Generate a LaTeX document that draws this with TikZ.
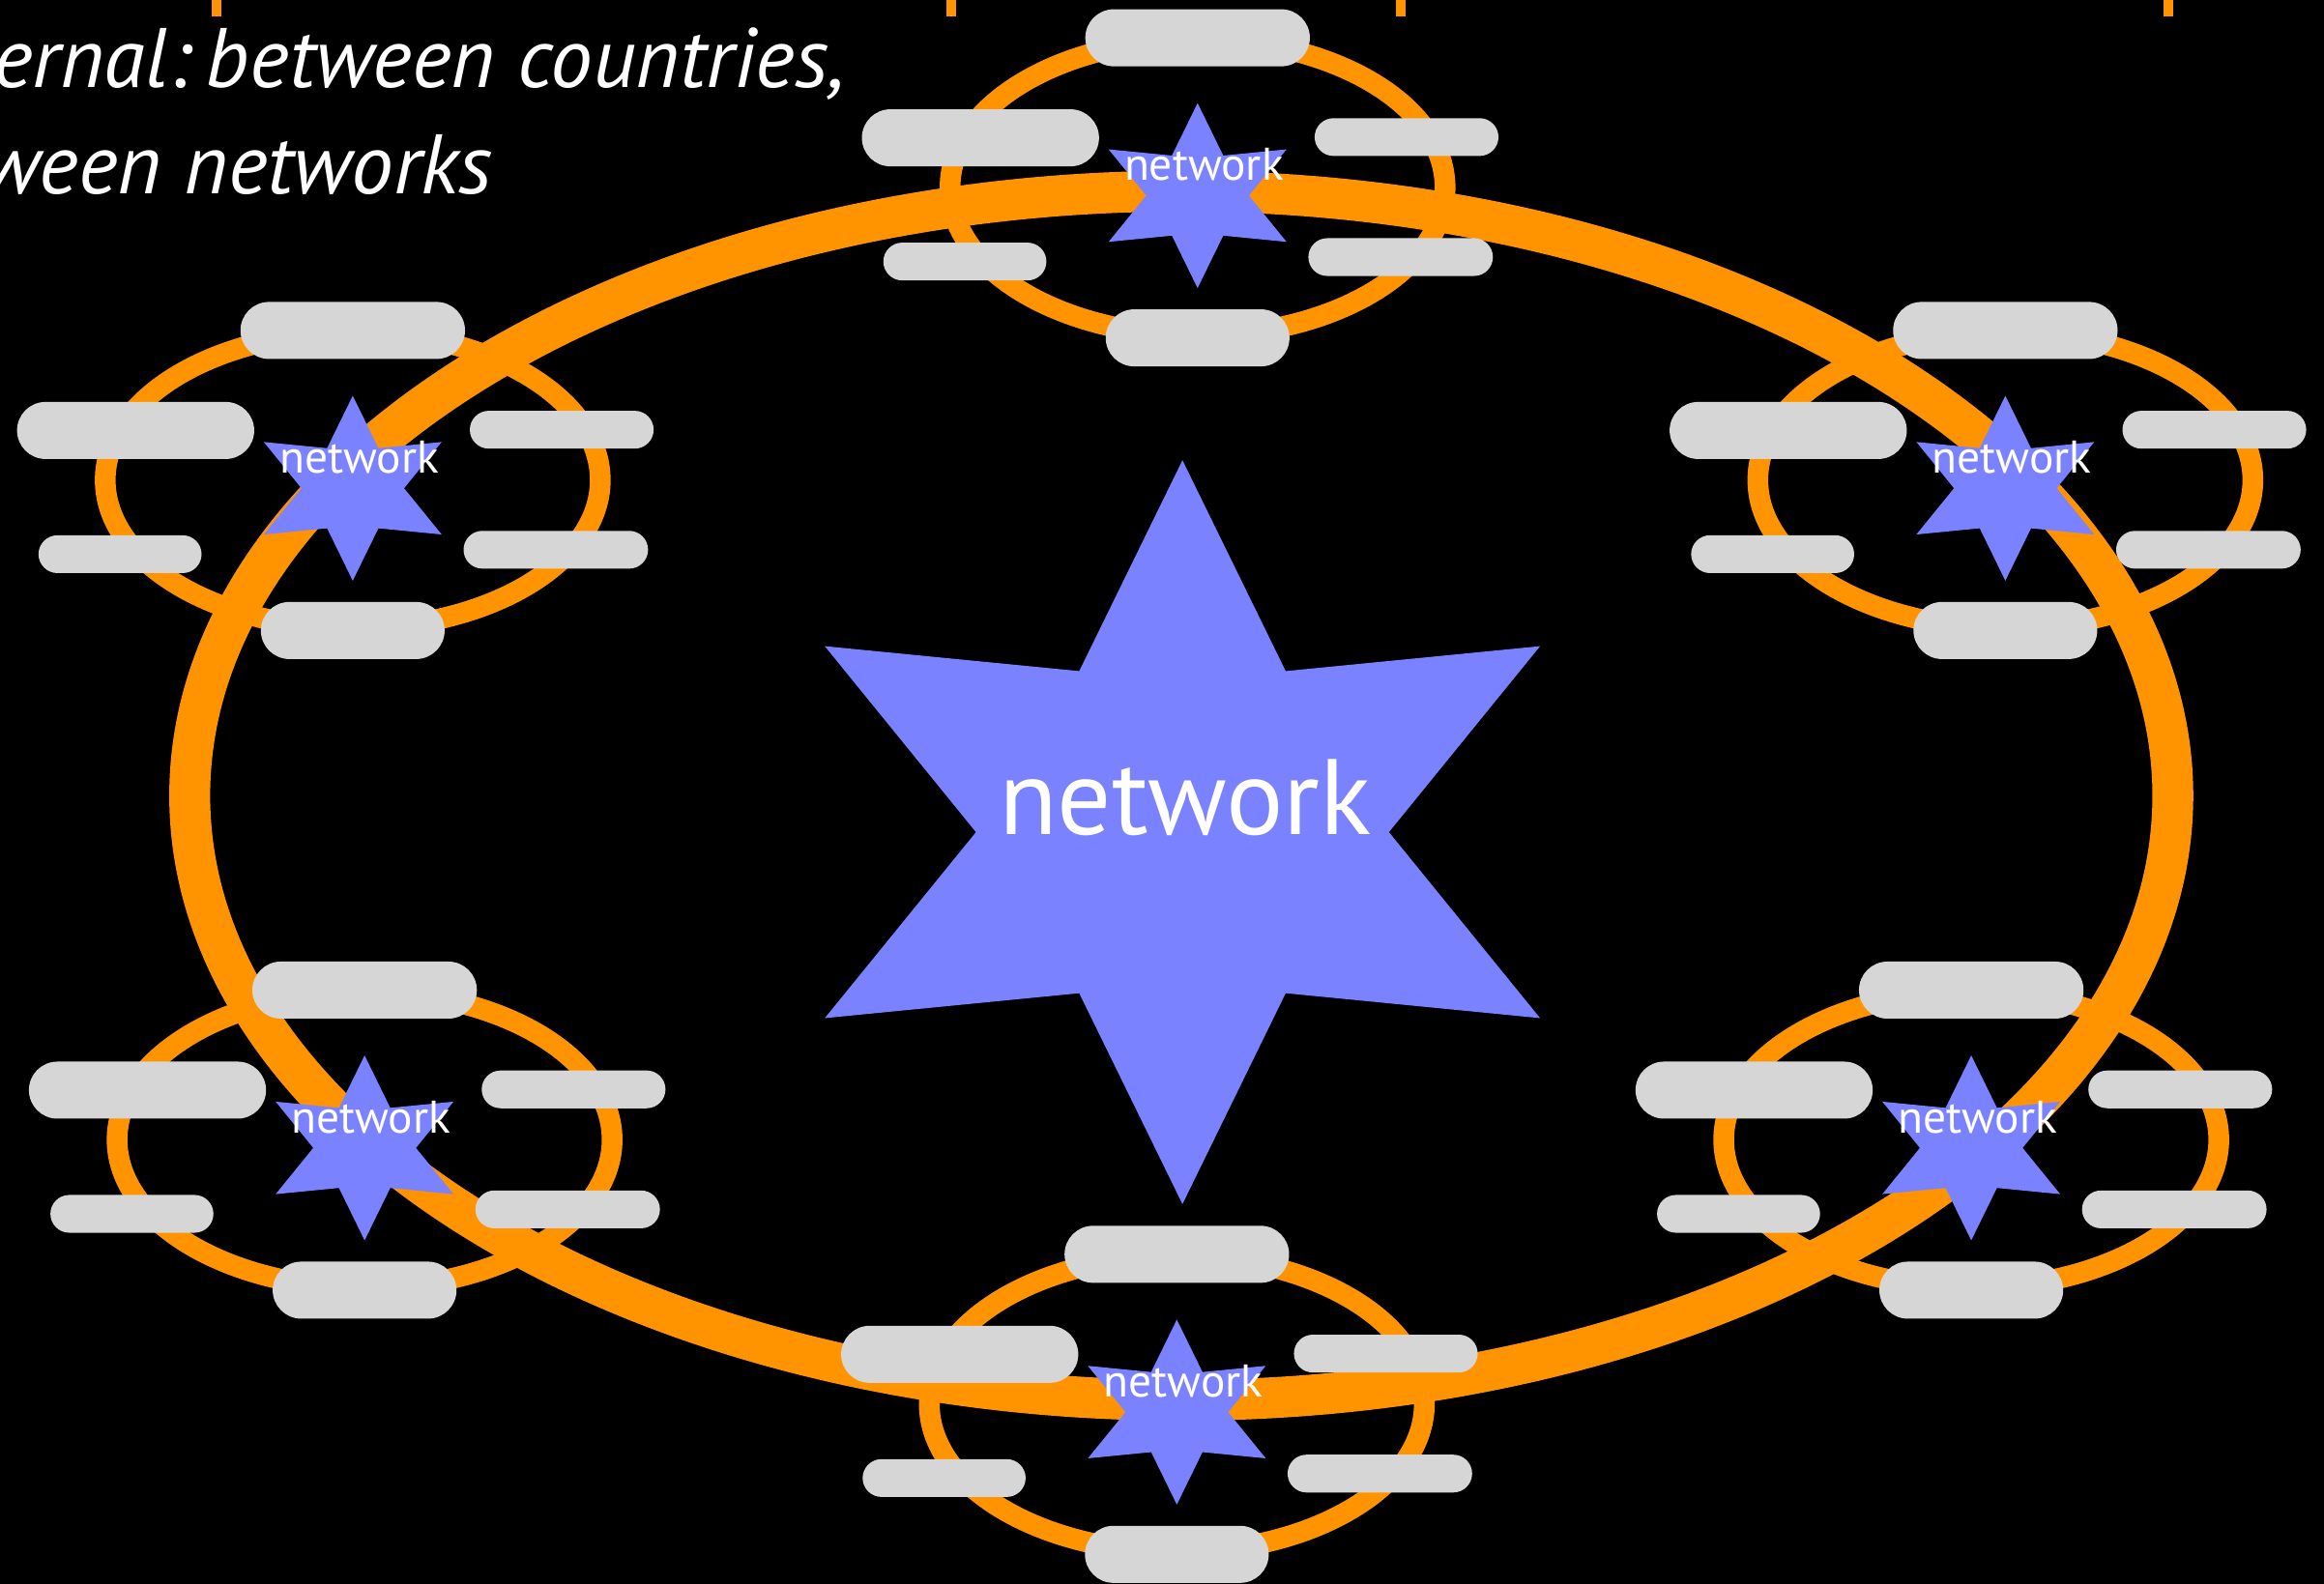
\documentclass[tikz,border=0pt]{standalone}
\usepackage{fontspec}
\setmainfont{PT Sans}
\usetikzlibrary{shapes, calc}
\definecolor{ringorange}{RGB}{255,148,0}
\definecolor{netblue}{RGB}{123,130,255}
\definecolor{pillgray}{RGB}{214,214,214}
\tikzset{
	every node/.style={
		text=white
	},
	netstar/.style={
		shape=star,
		star points=6,
		star point ratio=2,
		fill=netblue,
		inner sep=0pt,
		minimum size=12.48mm,
		xscale=1.11
	},
	netlabel/.style={
		font=\fontsize{8.8}{10}\selectfont,
		inner sep=0pt,
		anchor=base
	},
	smalllabel/.style={
		netlabel,
		xshift=0.43mm,
		yshift=1.02mm
	},
	biglabel/.style={
		netlabel,
		font=\fontsize{20.6}{24}\selectfont,
		xshift=0.17mm,
		yshift=-0.14mm
	},
	bigpill/.style={
		shape=rectangle,
		fill=pillgray,
		minimum height=3.85mm,
		rounded corners=1.925mm,
		inner sep=0pt
	},
	smallpill/.style={
		shape=rectangle,
		fill=pillgray,
		minimum height=2.55mm,
		rounded corners=1.275mm,
		inner sep=0pt
	},
	titleline/.style={
		inner sep=0pt,
		font=\fontsize{16.2}{20}\selectfont\itshape
	},
	subring/.style={draw=ringorange, line width=1.4mm},
	mainring/.style={draw=ringorange, line width=2.76mm},
	tickmark/.style={draw=ringorange, line width=0.65mm}
}

\begin{document}
\begin{tikzpicture}[x=0.1mm, y=-0.1mm]
	\fill[black] (0,0) rectangle (1568,1069);
	\useasboundingbox (0,0) rectangle (1568,1069);
	
	% centres of the six networks
	\coordinate (ctop) at (808,132);
	\coordinate (ctl)  at (238,329.5);
	\coordinate (ctr)  at (1353,329.5);
	\coordinate (cbl)  at (246,774.7);
	\coordinate (cbr)  at (1330,774.7);
	\coordinate (cbot) at (794,953);
	
	% small rings
	\draw[subring] ($(ctop)+(0,-5.5)$) ellipse [x radius=167, y radius=100];
	\draw[subring] ($(ctl)+(0,-5.5)$)  ellipse [x radius=167, y radius=100];
	\draw[subring] ($(ctr)+(0,-5.5)$)  ellipse [x radius=167, y radius=100];
	\draw[subring] ($(cbl)+(0,-5.5)$)  ellipse [x radius=167, y radius=100];
	\draw[subring] ($(cbr)+(0,-5.5)$)  ellipse [x radius=167, y radius=100];
	\draw[subring] ($(cbot)+(0,-5.5)$) ellipse [x radius=167, y radius=100];
	
	% big ring
	\coordinate (hubc) at (797,537);
	\draw[mainring] (hubc) ellipse [x radius=669, y radius=408];
	
	% marks on the top edge
	\draw[tickmark] (146.4,-5) -- (146.4,11);
	\draw[tickmark] (641.9,-5) -- (641.9,11);
	\draw[tickmark] (945.2,-5) -- (945.2,11);
	\draw[tickmark] (1462.8,-5) -- (1462.8,11);
	
	% big network
	\node[netstar, minimum size=50.2mm] (hub) at (797.8,561.6) {};
	\node[biglabel] (lhub) at (hub.center) {network};
	
	% top network
	\node[netstar] (stop) at (ctop) {};
	\node[smalllabel] (ltop) at (stop.center) {network};
	\node[bigpill, minimum width=15.15mm]   (t1) at ($(ctop)+(0,-106.5)$)    {};
	\node[bigpill, minimum width=16mm]      (t2) at ($(ctop)+(-146.5,-39)$)  {};
	\node[smallpill, minimum width=12.4mm]  (t3) at ($(ctop)+(141,-39.5)$)   {};
	\node[smallpill, minimum width=11mm]    (t4) at ($(ctop)+(-157,44.5)$)   {};
	\node[smallpill, minimum width=12.45mm] (t5) at ($(ctop)+(137,41.5)$)    {};
	\node[bigpill, minimum width=12.4mm]    (t6) at ($(ctop)+(0,96)$)        {};
	
	% top left network
	\node[netstar] (stl) at (ctl) {};
	\node[smalllabel] (ltl) at (stl.center) {network};
	\node[bigpill, minimum width=15.15mm]   (tl1) at ($(ctl)+(0,-106.5)$)   {};
	\node[bigpill, minimum width=16mm]      (tl2) at ($(ctl)+(-146.5,-39)$) {};
	\node[smallpill, minimum width=12.4mm]  (tl3) at ($(ctl)+(141,-39.5)$)  {};
	\node[smallpill, minimum width=11mm]    (tl4) at ($(ctl)+(-157,44.5)$)  {};
	\node[smallpill, minimum width=12.45mm] (tl5) at ($(ctl)+(137,41.5)$)   {};
	\node[bigpill, minimum width=12.4mm]    (tl6) at ($(ctl)+(0,96)$)       {};
	
	% top right network
	\node[netstar] (str) at (ctr) {};
	\node[smalllabel] (ltr) at (str.center) {network};
	\node[bigpill, minimum width=15.15mm]   (tr1) at ($(ctr)+(0,-106.5)$)   {};
	\node[bigpill, minimum width=16mm]      (tr2) at ($(ctr)+(-146.5,-39)$) {};
	\node[smallpill, minimum width=12.4mm]  (tr3) at ($(ctr)+(141,-39.5)$)  {};
	\node[smallpill, minimum width=11mm]    (tr4) at ($(ctr)+(-157,44.5)$)  {};
	\node[smallpill, minimum width=12.45mm] (tr5) at ($(ctr)+(137,41.5)$)   {};
	\node[bigpill, minimum width=12.4mm]    (tr6) at ($(ctr)+(0,96)$)       {};
	
	% bottom left network
	\node[netstar] (sbl) at (cbl) {};
	\node[smalllabel] (lbl) at (sbl.center) {network};
	\node[bigpill, minimum width=15.15mm]   (bl1) at ($(cbl)+(0,-106.5)$)   {};
	\node[bigpill, minimum width=16mm]      (bl2) at ($(cbl)+(-146.5,-39)$) {};
	\node[smallpill, minimum width=12.4mm]  (bl3) at ($(cbl)+(141,-39.5)$)  {};
	\node[smallpill, minimum width=11mm]    (bl4) at ($(cbl)+(-157,44.5)$)  {};
	\node[smallpill, minimum width=12.45mm] (bl5) at ($(cbl)+(137,41.5)$)   {};
	\node[bigpill, minimum width=12.4mm]    (bl6) at ($(cbl)+(0,96)$)       {};
	
	% bottom right network
	\node[netstar] (sbr) at (cbr) {};
	\node[smalllabel] (lbr) at (sbr.center) {network};
	\node[bigpill, minimum width=15.15mm]   (br1) at ($(cbr)+(0,-106.5)$)   {};
	\node[bigpill, minimum width=16mm]      (br2) at ($(cbr)+(-146.5,-39)$) {};
	\node[smallpill, minimum width=12.4mm]  (br3) at ($(cbr)+(141,-39.5)$)  {};
	\node[smallpill, minimum width=11mm]    (br4) at ($(cbr)+(-157,44.5)$)  {};
	\node[smallpill, minimum width=12.45mm] (br5) at ($(cbr)+(137,41.5)$)   {};
	\node[bigpill, minimum width=12.4mm]    (br6) at ($(cbr)+(0,96)$)       {};
	
	% bottom network
	\node[netstar] (sbot) at (cbot) {};
	\node[smalllabel] (lbot) at (sbot.center) {network};
	\node[bigpill, minimum width=15.15mm]   (b1) at ($(cbot)+(0,-106.5)$)   {};
	\node[bigpill, minimum width=16mm]      (b2) at ($(cbot)+(-146.5,-39)$) {};
	\node[smallpill, minimum width=12.4mm]  (b3) at ($(cbot)+(141,-39.5)$)  {};
	\node[smallpill, minimum width=11mm]    (b4) at ($(cbot)+(-157,44.5)$)  {};
	\node[smallpill, minimum width=12.45mm] (b5) at ($(cbot)+(137,41.5)$)   {};
	\node[bigpill, minimum width=12.4mm]    (b6) at ($(cbot)+(0,96)$)       {};
	
	% title lines
	\node[titleline, anchor=base west] (line1) at (-5,59.2) {ernal:\hspace{0.18em}between countries,};
	\node[titleline, anchor=base east] (line2) at (333,130.5) {ween networks};
\end{tikzpicture}
\end{document}
